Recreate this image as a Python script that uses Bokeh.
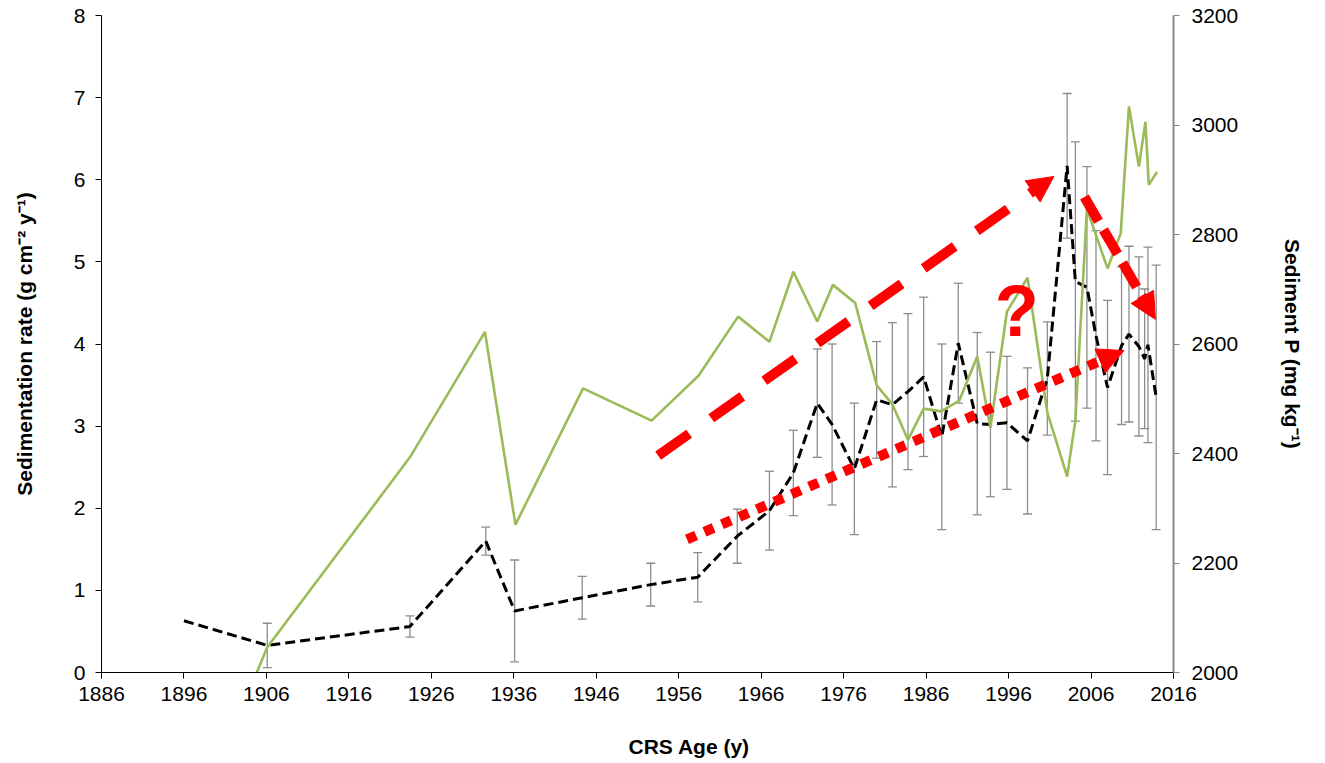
from bokeh.plotting import figure
from bokeh.models import (Range1d, LinearAxis, FixedTicker, ColumnDataSource, Whisker,
                          TeeHead, Arrow, NormalHead, Title)
from bokeh.core.properties import value
from bokeh.embed import file_html
from bokeh.resources import INLINE

# ---------------- data ----------------
rate_years = [1896.0, 1906.1, 1923.4, 1932.6, 1936.1, 1944.3, 1952.6, 1958.3, 1963.1, 1967.0,
              1969.9, 1972.8, 1974.6, 1977.3, 1980.0, 1981.9, 1983.8, 1985.7, 1987.9, 1989.9,
              1992.2, 1993.8, 1995.8, 1998.3, 2000.7, 2003.1, 2004.1, 2005.5, 2006.6, 2008.0,
              2009.7, 2010.6, 2011.8, 2012.5, 2012.9, 2013.9]
rate = [0.63, 0.33, 0.56, 1.60, 0.75, 0.91, 1.07, 1.16, 1.66, 1.97,
        2.43, 3.28, 3.02, 2.48, 3.32, 3.26, 3.42, 3.60, 2.87, 4.01,
        3.03, 3.02, 3.04, 2.82, 3.58, 6.17, 4.76, 4.69, 4.10, 3.47,
        3.98, 4.12, 3.97, 3.82, 3.99, 3.35]
rate_err = [0.0, 0.27, 0.13, 0.17, 0.62, 0.26, 0.26, 0.30, 0.33, 0.48,
            0.52, 0.66, 0.98, 0.80, 0.71, 1.00, 0.95, 0.97, 1.13, 0.73,
            1.11, 0.88, 0.81, 0.89, 0.69, 0.88, 1.70, 1.47, 1.28, 1.06,
            0.96, 1.07, 1.09, 0.85, 1.19, 1.61]

p_years = [1896.0, 1906.1, 1923.4, 1932.5, 1936.2, 1944.4, 1952.7, 1958.4, 1963.2, 1967.0,
           1969.9, 1972.8, 1974.7, 1977.4, 1980.0, 1981.9, 1983.8, 1985.7, 1987.8, 1990.0,
           1992.2, 1993.8, 1995.8, 1998.3, 2000.7, 2003.1, 2004.1, 2005.5, 2008.0, 2009.6,
           2010.6, 2011.8, 2012.6, 2013.0, 2014.0]
sediment_p = [1680, 2046, 2393, 2622, 2270, 2519, 2460, 2542, 2650, 2604,
              2732, 2641, 2708, 2675, 2525, 2490, 2425, 2482, 2477, 2496,
              2577, 2447, 2659, 2721, 2475, 2358, 2460, 2847, 2738, 2802,
              3034, 2924, 3006, 2891, 2914]

x_ticks = [1886, 1896, 1906, 1916, 1926, 1936, 1946, 1956, 1966, 1976, 1986, 1996, 2006, 2016]
y_ticks = [0, 1, 2, 3, 4, 5, 6, 7, 8]
p_ticks = [2000, 2200, 2400, 2600, 2800, 3000, 3200]

# annotation arrows (year, rate) : start -> end
trend_up = dict(x0=1953.5, y0=2.64, x1=2001.5, y1=6.04)
trend_down = dict(x0=2005.2, y0=5.79, x1=2013.8, y1=4.30)
trend_dotted = dict(x0=1957.0, y0=1.62, x1=2010.0, y1=3.92)
question = dict(x=[1997.0], y=[4.40], text=["?"])

# ---------------- style ----------------
FONT = "Liberation Sans"
GREEN = "#9BBB59"
GRAY = "#8C8C8C"
RED = "#FF0000"

p = figure(width=1325, height=763, output_backend="svg", toolbar_location=None,
           x_range=Range1d(1886, 2016), y_range=Range1d(0, 8),
           min_border_left=101, min_border_right=152, min_border_top=15, min_border_bottom=91)
p.outline_line_color = None
p.xgrid.grid_line_color = None
p.ygrid.grid_line_color = None
p.background_fill_color = "white"
p.border_fill_color = "white"
p.extra_y_ranges = {"p": Range1d(2000, 3200)}

# error bars
ex, eu, el = [], [], []
for x, v, e in zip(rate_years, rate, rate_err):
    if e > 0:
        ex.append(x); eu.append(v + e); el.append(v - e)
err_src = ColumnDataSource(dict(x=ex, upper=eu, lower=el))
wh = Whisker(source=err_src, base="x", upper="upper", lower="lower",
             line_color=GRAY, line_width=1.3, level="underlay",
             upper_head=TeeHead(size=9, line_color=GRAY, line_width=1.3),
             lower_head=TeeHead(size=9, line_color=GRAY, line_width=1.3))
p.add_layout(wh)

p.line(rate_years, rate, line_color="black", line_width=3, line_dash="10 5")
p.line(p_years, sediment_p, y_range_name="p", line_color=GREEN, line_width=2.6)

def add_arrow(d, dash):
    p.add_layout(Arrow(end=NormalHead(size=26, fill_color=RED, line_color=RED, line_width=1),
                       x_start=d["x0"], y_start=d["y0"], x_end=d["x1"], y_end=d["y1"],
                       line_color=RED, line_width=10, line_dash=dash))

add_arrow(trend_up, "38 27")
add_arrow(trend_down, "28 10")
add_arrow(trend_dotted, "10 9")

p.text(x=question["x"], y=question["y"], text=question["text"], text_font=value(FONT),
       text_font_style="bold", text_font_size="72px", text_color=RED,
       text_align="center", text_baseline="alphabetic")

def style_axis(ax, color):
    ax.axis_line_color = color
    ax.major_tick_line_color = color
    ax.minor_tick_line_color = None
    ax.major_tick_in = 0
    ax.major_tick_out = 6
    ax.major_label_text_font = FONT
    ax.major_label_text_font_size = "21px"
    ax.major_label_text_color = "black"
    ax.axis_label_text_font = FONT
    ax.axis_label_text_font_size = "21px"
    ax.axis_label_text_font_style = "bold"
    ax.axis_label_text_color = "black"

xa = p.xaxis[0]
style_axis(xa, "black")
xa.ticker = FixedTicker(ticks=x_ticks)
xa.major_label_standoff = 8

ya = p.yaxis[0]
style_axis(ya, "black")
ya.ticker = FixedTicker(ticks=y_ticks)
ya.major_label_standoff = 10
ya.axis_label = "Sedimentation rate (g cm\u207b\u00b2 y\u207b\u00b9)"
ya.axis_label_standoff = 35

ra = LinearAxis(y_range_name="p", ticker=FixedTicker(ticks=p_ticks),
                axis_label="Sediment P (mg kg\u207b\u00b9)")
style_axis(ra, "#868686")
ra.axis_line_width = 2
ra.major_label_standoff = 12
ra.axis_label_standoff = 40
p.add_layout(ra, "right")

# spacer between tick labels and the x title (empty-looking, tiny)
p.add_layout(Title(text=" ", text_font_size="1px", standoff=24), "below")
p.add_layout(Title(text="CRS Age (y)", align="left", offset=527, text_font=FONT,
                   text_font_size="21px", text_font_style="bold", text_color="black",
                   standoff=4), "below")

open("out.html", "w").write(file_html(p, INLINE))
